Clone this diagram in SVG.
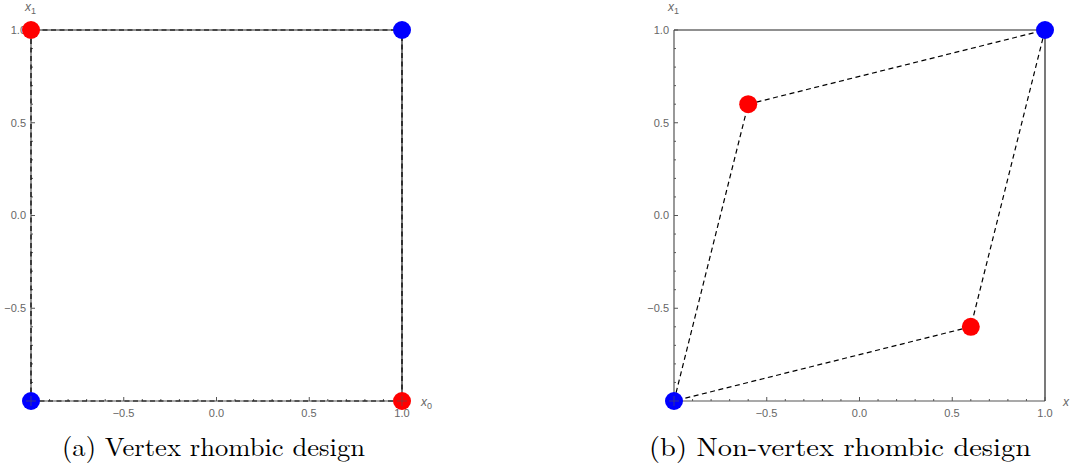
<svg xmlns="http://www.w3.org/2000/svg" width="1070" height="468" viewBox="0 0 1070 468">
<style>
.tl{font-family:"Liberation Sans",Arial,sans-serif;font-size:11px;fill:#666}
.ax{stroke:#555;stroke-width:1.2;fill:none}
.fr{stroke:#222;stroke-width:1.2;fill:none}
.tk{stroke:#555;stroke-width:1}
.dash{stroke:#000;stroke-width:1.2;fill:none;stroke-dasharray:5,3.5}
.cap{font-family:"Latin Modern Roman","CMU Serif","Liberation Serif",serif;font-size:26px;fill:#000}
.lab{font-family:"Liberation Sans",Arial,sans-serif;font-style:italic;font-size:12px;fill:#666}
.red{fill:#ff0000}
.blue{fill:#0000ff}
</style>
<defs>
<g id="yt">
<path class="tk" d="M0,0h4M0,18.55h2M0,37.1h2M0,55.65h2M0,74.2h2M0,92.75h4M0,111.3h2M0,129.85h2M0,148.4h2M0,166.95h2M0,185.5h4M0,204.05h2M0,222.6h2M0,241.15h2M0,259.7h2M0,278.25h4M0,296.8h2M0,315.35h2M0,333.9h2M0,352.45h2"/>
</g>
<g id="xt">
<path class="tk" d="M18.55,0v-2M37.1,0v-2M55.65,0v-2M74.2,0v-2M92.75,0v-4M111.3,0v-2M129.85,0v-2M148.4,0v-2M166.95,0v-2M185.5,0v-4M204.05,0v-2M222.6,0v-2M241.15,0v-2M259.7,0v-2M278.25,0v-4M296.8,0v-2M315.35,0v-2M333.9,0v-2M352.45,0v-2M371,0v-4"/>
</g>
</defs>
<g id="panel-a">
<g id="axes-a">
<path class="ax" d="M31,401V30M31,401H402"/>
<path class="fr" d="M31,30H402V401"/>
<use href="#yt" x="31" y="30"/>
<use href="#xt" x="31" y="401"/>
<text class="tl" x="26" y="34" text-anchor="end">1.0</text>
<text class="tl" x="26" y="127" text-anchor="end">0.5</text>
<text class="tl" x="26" y="219" text-anchor="end">0.0</text>
<text class="tl" x="26" y="312" text-anchor="end">−0.5</text>
<text class="tl" x="123.5" y="417" text-anchor="middle">−0.5</text>
<text class="tl" x="216.5" y="417" text-anchor="middle">0.0</text>
<text class="tl" x="309" y="417" text-anchor="middle">0.5</text>
<text class="tl" x="402" y="417" text-anchor="middle">1.0</text>
<text class="lab" x="421" y="406">x<tspan font-size="9" dy="3" font-style="normal">0</tspan></text>
<text class="lab" x="25" y="11">x<tspan font-size="9" dy="3" font-style="normal">1</tspan></text>
</g>
<g id="connectors-a">
<path class="dash" d="M31,401L31,30L402,30L402,401L31,401"/>
</g>
<g id="pt-a1"><circle class="red" cx="31" cy="30" r="9"/></g>
<g id="pt-a2"><circle class="blue" cx="402" cy="30" r="9"/></g>
<g id="pt-a3"><circle class="blue" cx="31" cy="401" r="9"/></g>
<g id="pt-a4"><circle class="red" cx="402" cy="401" r="9"/></g>
<path class="tk" d="M31,396v10M26,401h10M402,396v10M397,401h10" stroke-opacity="0.6"/>
<text class="cap" x="62" y="456" textLength="303" lengthAdjust="spacingAndGlyphs">(a) Vertex rhombic design</text>
</g>
<g id="panel-b">
<g id="axes-b">
<path class="ax" d="M674,401V30M674,401H1045"/>
<path class="fr" d="M674,30H1045V401"/>
<use href="#yt" x="674" y="30"/>
<use href="#xt" x="674" y="401"/>
<text class="tl" x="669" y="34" text-anchor="end">1.0</text>
<text class="tl" x="669" y="127" text-anchor="end">0.5</text>
<text class="tl" x="669" y="219" text-anchor="end">0.0</text>
<text class="tl" x="669" y="312" text-anchor="end">−0.5</text>
<text class="tl" x="766.5" y="417" text-anchor="middle">−0.5</text>
<text class="tl" x="859.5" y="417" text-anchor="middle">0.0</text>
<text class="tl" x="952" y="417" text-anchor="middle">0.5</text>
<text class="tl" x="1045" y="417" text-anchor="middle">1.0</text>
<text class="lab" x="1063" y="406">x</text>
<text class="lab" x="668" y="11">x<tspan font-size="9" dy="3" font-style="normal">1</tspan></text>
</g>
<g id="connectors-b">
<path class="dash" d="M674,401L748.2,104.2L1045,30L970.8,326.8L674,401"/>
</g>
<g id="pt-b1"><circle class="red" cx="748.2" cy="104.2" r="9"/></g>
<g id="pt-b2"><circle class="blue" cx="1045" cy="30" r="9"/></g>
<g id="pt-b3"><circle class="blue" cx="674" cy="401" r="9"/></g>
<g id="pt-b4"><circle class="red" cx="970.8" cy="326.8" r="9"/></g>
<path class="tk" d="M674,396v10M669,401h10" stroke-opacity="0.6"/>
<text class="cap" x="649" y="456" textLength="382" lengthAdjust="spacingAndGlyphs">(b) Non-vertex rhombic design</text>
</g>
</svg>
